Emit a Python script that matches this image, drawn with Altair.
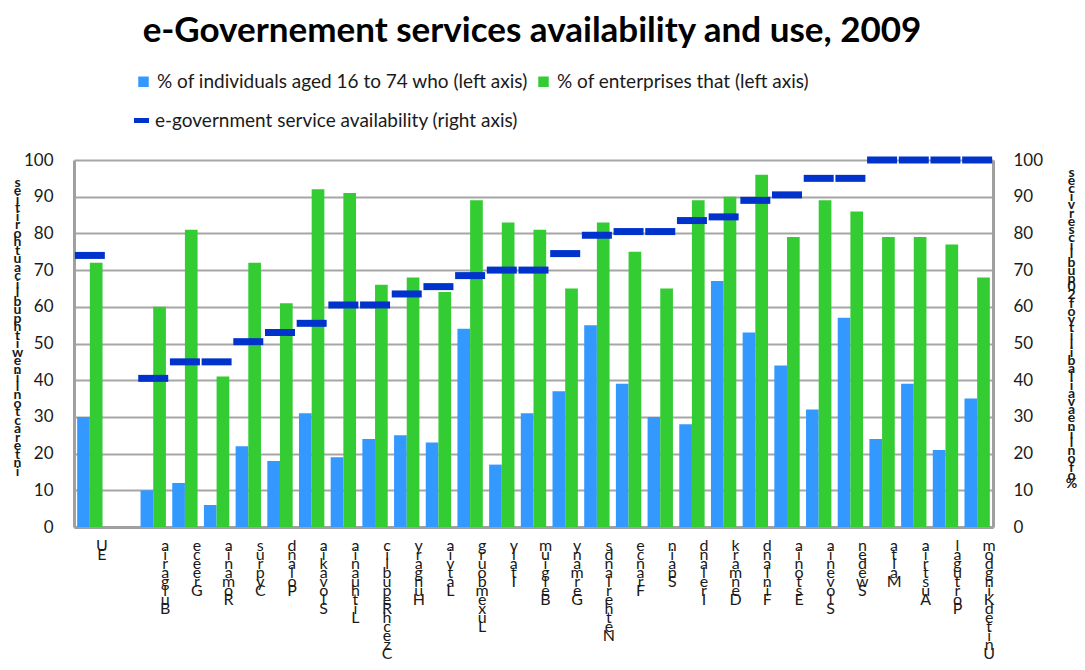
import altair as alt
import pandas as pd

countries = ["EU", " ", "Bulgaria", "Greece", "Romania", "Cyprus", "Poland", "Slovakia",
             "Lithuania", "Czech Republic", "Hungary", "Latvia", "Luxembourg", "Italy",
             "Belgium", "Germany", "Netherlands", "France", "Spain", "Ireland", "Denmark",
             "Finland", "Estonia", "Slovenia", "Sweden", "Malta", "Austria", "Portugal",
             "United Kingdom"]
individuals = [30, None, 10, 12, 6, 22, 18, 31, 19, 24, 25, 23, 54, 17, 31, 37, 55, 39, 30,
               28, 67, 53, 44, 32, 57, 24, 39, 21, 35]
enterprises = [72, None, 60, 81, 41, 72, 61, 92, 91, 66, 68, 64, 89, 83, 81, 65, 83, 75, 65,
               89, 90, 96, 79, 89, 86, 79, 79, 77, 68]
availability = [74, None, 40.5, 45, 45, 50.5, 53, 55.5, 60.5, 60.5, 63.5, 65.5, 68.5, 70, 70,
                74.5, 79.5, 80.5, 80.5, 83.5, 84.5, 89, 90.5, 95, 95, 100, 100, 100, 100]
series_names = ["%  of individuals aged 16 to 74 who (left axis)",
                "% of enterprises that (left axis)"]
line_name = "e-government service availability (right axis)"
title_text = "e-Governement services availability and use, 2009"
left_title = "interact online with public authorities"
right_title = "% of online availability of 20 public services"
y_ticks = list(range(0, 101, 10))

BLUE = "#3399FF"
GREEN = "#33CC33"
DASH = "#0033CC"
GRID = "#A6A6A6"
TXT = "#1a1a1a"

rows = []
for c, a, b in zip(countries, individuals, enterprises):
    if a is not None:
        rows.append({"country": c, "series": series_names[0], "value": a})
    if b is not None:
        rows.append({"country": c, "series": series_names[1], "value": b})
bars_df = pd.DataFrame(rows)

line_rows = [{"country": c, "availability": v, "name": line_name}
             for c, v in zip(countries, availability) if v is not None]
line_df = pd.DataFrame(line_rows)

x_scale = alt.Scale(domain=countries, paddingInner=0.2, paddingOuter=0.1)
x_axis = alt.Axis(title=None, labelExpr="reverse(split(datum.label, ''))", labelAngle=0,
                  labelAlign="center", labelBaseline="top", labelLineHeight=9,
                  labelFontSize=16, labelPadding=10, labelOffset=12, ticks=False,
                  domainColor="#A0A0A0", domainWidth=3, labelOverlap=False,
                  labelBound=False, labelColor=TXT, grid=False)

bars = alt.Chart(bars_df).mark_bar().encode(
    x=alt.X("country:N", scale=x_scale, axis=x_axis),
    xOffset=alt.XOffset("series:N", scale=alt.Scale(domain=series_names)),
    y=alt.Y("value:Q", scale=alt.Scale(domain=[0, 100]),
            axis=alt.Axis(values=y_ticks, orient="left", title=list(reversed(left_title)),
                          titleAngle=0, titleAlign="center", titleBaseline="top",
                          titleX=-57, titleY=15, titleLineHeight=8.5, titleFontSize=14,
                          titleFontWeight="bold", titleColor=TXT, labelFontSize=17,
                          labelPadding=21, ticks=False, domainColor="#A0A0A0",
                          domainWidth=3, gridColor=GRID, gridWidth=2, labelColor=TXT)),
    color=alt.Color("series:N", scale=alt.Scale(domain=series_names, range=[BLUE, GREEN]),
                    legend=alt.Legend(orient="none", legendX=60, legendY=-88, title=None,
                                      direction="horizontal", symbolType="square",
                                      symbolSize=110, labelFontSize=19, labelColor=TXT,
                                      columnPadding=1, symbolStrokeWidth=0, labelLimit=600))
)

dashes = alt.Chart(line_df).mark_tick(size=30, thickness=7, opacity=1).encode(
    x=alt.X("country:N", scale=x_scale, axis=x_axis),
    y=alt.Y("availability:Q", scale=alt.Scale(domain=[0, 100]),
            axis=alt.Axis(values=y_ticks, orient="right", title=list(reversed(right_title)),
                          titleAngle=0, titleAlign="center", titleBaseline="top",
                          titleX=78, titleY=5, titleLineHeight=8.2, titleFontSize=14,
                          titleFontWeight="bold", titleColor=TXT, labelFontSize=17,
                          labelPadding=20, ticks=False, domainColor="#A0A0A0",
                          domainWidth=3, grid=False, labelColor=TXT)),
    color=alt.Color("name:N", scale=alt.Scale(domain=[line_name], range=[DASH]),
                    legend=alt.Legend(orient="none", legendX=58, legendY=-49, title=None,
                                      symbolType="M-1,-0.33H1V0.33H-1Z", symbolSize=225,
                                      labelFontSize=19, labelColor=TXT, symbolStrokeWidth=0,
                                      labelLimit=600))
)

title_layer = alt.Chart(pd.DataFrame({"t": [title_text]})).mark_text(
    fontSize=35, fontWeight="bold", align="center", baseline="alphabetic", color="black"
).encode(text="t:N", x=alt.value(458), y=alt.value(-118))

chart = alt.layer(bars, dashes, title_layer).resolve_scale(
    y="independent", color="independent"
).properties(
    width=919, height=367,
    autosize=alt.AutoSizeParams(type="none"),
    padding={"left": 66, "top": 152, "right": 84, "bottom": 135},
    background="white",
).configure(font="Lato").configure_view(strokeWidth=0)

chart.save("out.html", embed_options={"renderer": "svg", "actions": False})
